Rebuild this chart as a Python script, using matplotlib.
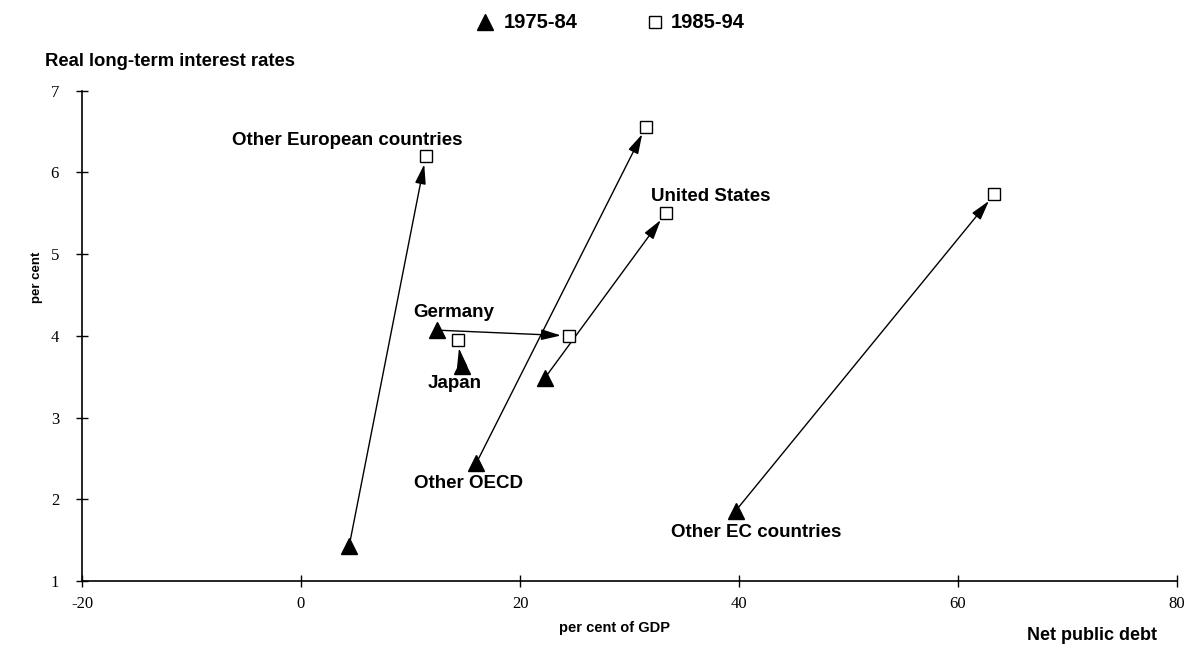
import matplotlib
matplotlib.use("Agg")
import matplotlib.pyplot as plt
from matplotlib.lines import Line2D

plt.rcParams["axes.unicode_minus"] = False

# net public debt (% of GDP) and real long-term interest rates (%)
regions = ["Other European countries", "Other OECD", "United States",
           "Germany", "Japan", "Other EC countries"]
debt_7584 = [4.4, 16.0, 22.3, 12.4, 14.7, 39.7]
rate_7584 = [1.43, 2.44, 3.49, 4.07, 3.63, 1.86]
debt_8594 = [11.4, 31.5, 33.3, 24.5, 14.3, 63.3]
rate_8594 = [6.20, 6.56, 5.50, 4.00, 3.95, 5.73]

# where each region's name is written
label_x = [4.2, 15.3, 37.4, 13.9, 14.0, 41.6]
label_y = [6.39, 2.19, 5.71, 4.28, 3.42, 1.59]

xticks = [-20, 0, 20, 40, 60, 80]
yticks = [1, 2, 3, 4, 5, 6, 7]
periods = ["1975-84", "1985-94"]

sans = "Liberation Sans"
serif = "Liberation Serif"

fig = plt.figure(figsize=(11.95, 6.48), dpi=100)
ax = fig.add_axes([0.0686, 0.1034, 0.9164, 0.7566])

# arrows from the first period to the second
for i in range(len(regions)):
    ax.annotate("", xy=(debt_8594[i], rate_8594[i]),
                xytext=(debt_7584[i], rate_7584[i]),
                arrowprops=dict(arrowstyle="-|>,head_length=0.8,head_width=0.22",
                                mutation_scale=15, color="black", lw=1.0,
                                shrinkA=0, shrinkB=6))

ax.plot(debt_7584, rate_7584, linestyle="none", marker="^", ms=11,
        mfc="black", mec="black", zorder=3)
ax.plot(debt_8594, rate_8594, linestyle="none", marker="s", ms=8,
        mfc="white", mec="black", mew=1.0, zorder=3)

for name, x, y in zip(regions, label_x, label_y):
    ax.text(x, y, name, ha="center", va="center", fontsize=13.5,
            fontweight="bold", family=sans)

ax.set_xlim(-20, 80)
ax.set_ylim(1, 7)
ax.set_xticks(xticks)
ax.set_yticks(yticks)
ax.tick_params(direction="inout", length=9, width=1)
ax.tick_params(axis="x", pad=6)
ax.tick_params(axis="y", pad=12)
for lab in ax.get_xticklabels() + ax.get_yticklabels():
    lab.set_family(serif)
    lab.set_fontsize(12)
ax.spines["top"].set_visible(False)
ax.spines["right"].set_visible(False)
ax.spines["left"].set_linewidth(1.2)
ax.spines["bottom"].set_linewidth(1.2)

fig.text(37 / 1195, 1 - 277 / 648, "per cent", rotation=90, fontsize=9.5,
         fontweight="bold", family=sans, ha="center", va="center")
fig.text(614 / 1195, 1 - 628 / 648, "per cent of GDP", fontsize=10.5,
         fontweight="bold", family=sans, ha="center", va="center")
fig.text(45 / 1195, 1 - 62 / 648, "Real long-term interest rates", fontsize=13.3,
         fontweight="bold", family=sans, va="center")
fig.text(1157 / 1195, 1 - 635 / 648, "Net public debt", fontsize=13,
         fontweight="bold", family=sans, ha="right", va="center")

# legend along the top
fig.add_artist(Line2D([485 / 1195], [1 - 22 / 648], marker="^", ms=11,
                      mfc="black", mec="black", linestyle="none",
                      transform=fig.transFigure))
fig.add_artist(Line2D([655 / 1195], [1 - 22 / 648], marker="s", ms=8.5,
                      mfc="white", mec="black", mew=1.0, linestyle="none",
                      transform=fig.transFigure))
fig.text(504 / 1195, 1 - 22 / 648, periods[0], fontsize=14.5,
         fontweight="bold", family=sans, va="center")
fig.text(671 / 1195, 1 - 22 / 648, periods[1], fontsize=14.5,
         fontweight="bold", family=sans, va="center")

fig.savefig("out.png", dpi=100)
